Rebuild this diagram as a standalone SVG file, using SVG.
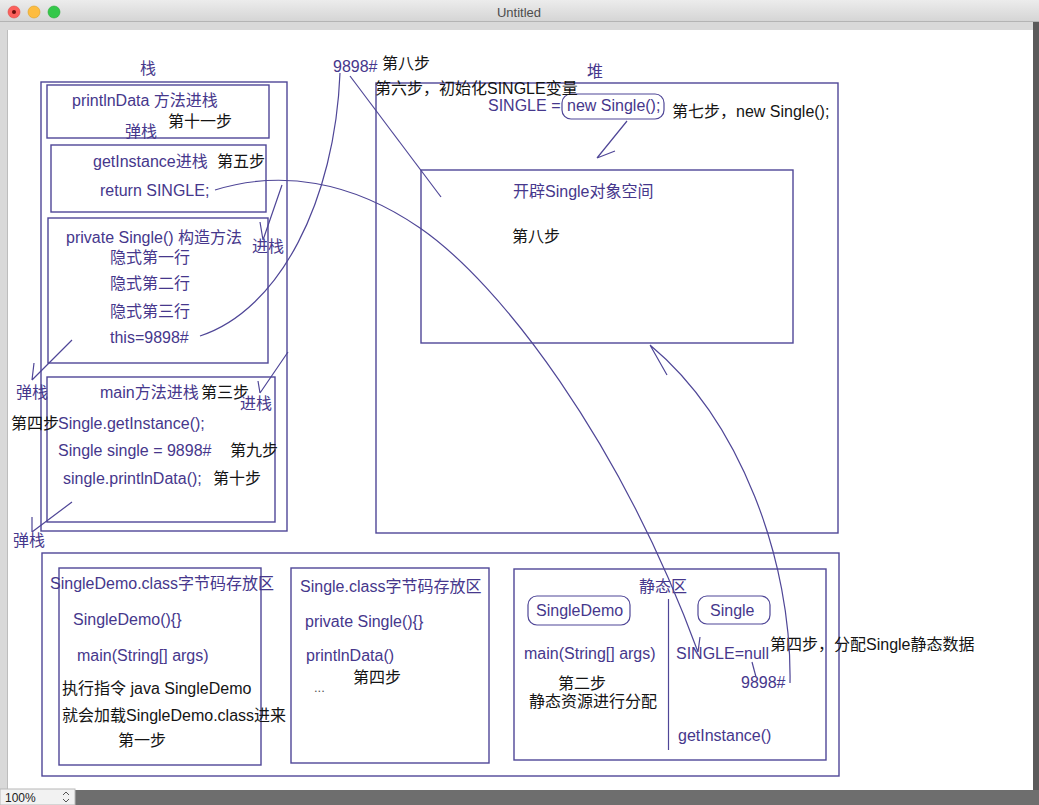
<svg xmlns="http://www.w3.org/2000/svg" width="1039" height="805" viewBox="0 0 1039 805">
<defs>
<linearGradient id="tb" x1="0" y1="0" x2="0" y2="1"><stop offset="0" stop-color="#ececec"/><stop offset="1" stop-color="#d4d4d4"/></linearGradient>
<style>
text{font-family:"Liberation Sans","Noto Sans CJK SC",sans-serif;font-size:16px}
.p{fill:#46378c}
.k{fill:#141414}
.box{fill:none;stroke:#4f4697;stroke-width:1.4}
.ln{fill:none;stroke:#4f4697;stroke-width:1.2}
.rb{fill:none;stroke:#4f4697;stroke-width:1.2}
</style>
</defs>
<!-- window chrome -->
<g id="window">
<rect x="0" y="0" width="1039" height="805" fill="#d9d9d9"/>
<rect x="0" y="0" width="1039" height="22" fill="url(#tb)"/>
<line x1="0" y1="21.5" x2="1039" y2="21.5" stroke="#b4b4b4"/>
<rect x="8" y="30" width="1025" height="760" fill="#ffffff"/>
<line x1="7.5" y1="30" x2="7.5" y2="790" stroke="#bdbdbd"/>
<rect x="1033" y="22" width="6" height="783" fill="#5a5a5a"/>
<rect x="0" y="790" width="1039" height="15" fill="#6e6e6e"/>
<rect x="0" y="789" width="75" height="16" fill="#f2f2f2" stroke="#b8b8b8"/>
<text x="5" y="802" style="font-size:12px" fill="#222">100%</text>
<path d="M63,795 l3,-3 l3,3 M63,799 l3,3 l3,-3" fill="none" stroke="#555" stroke-width="1"/>
<circle cx="14" cy="12" r="6" fill="#fc605c" stroke="#de4a45" stroke-width="0.6"/>
<circle cx="14" cy="12" r="2" fill="#6b0f0c"/>
<circle cx="34" cy="12" r="6" fill="#fdbc40" stroke="#dea123" stroke-width="0.6"/>
<circle cx="54" cy="12" r="6" fill="#34c84a" stroke="#27aa35" stroke-width="0.6"/>
<text x="519" y="16.5" text-anchor="middle" style="font-size:13px" fill="#4d4d4d">Untitled</text>
</g>

<!-- stack -->
<g id="stack">
<text class="p" x="140" y="74">栈</text>
<rect class="box" x="41" y="82" width="246" height="449"/>
</g>
<g id="frame-printlnData">
<rect class="box" x="47" y="85" width="222" height="53"/>
<text class="p" x="72" y="106">printlnData 方法进栈</text>
<text class="k" x="168" y="127">第十一步</text>
<text class="p" x="125" y="137">弹栈</text>
</g>
<g id="frame-getInstance">
<rect class="box" x="51" y="145" width="215" height="67"/>
<text class="p" x="93" y="167">getInstance进栈</text>
<text class="k" x="217" y="167">第五步</text>
<text class="p" x="100" y="196">return SINGLE;</text>
</g>
<g id="frame-constructor">
<rect class="box" x="48" y="218" width="220" height="145"/>
<text class="p" x="66" y="243">private Single() 构造方法</text>
<text class="p" x="110" y="263">隐式第一行</text>
<text class="p" x="110" y="289">隐式第二行</text>
<text class="p" x="110" y="317">隐式第三行</text>
<text class="p" x="110" y="343">this=9898#</text>
</g>
<g id="frame-main">
<rect class="box" x="47" y="377" width="228" height="145"/>
<text class="p" x="100" y="398">main方法进栈</text>
<text class="k" x="201" y="398">第三步</text>
<text class="k" x="11" y="429">第四步</text>
<text class="p" x="58" y="429">Single.getInstance();</text>
<text class="p" x="58" y="456">Single single = 9898#</text>
<text class="k" x="230" y="456">第九步</text>
<text class="p" x="63" y="484">single.printlnData();</text>
<text class="k" x="213" y="484">第十步</text>
</g>
<g id="stack-labels">
<text class="p" x="252" y="252">进栈</text>
<text class="p" x="16" y="398">弹栈</text>
<text class="p" x="240" y="409">进栈</text>
<text class="p" x="13" y="546">弹栈</text>
</g>

<!-- heap -->
<g id="heap">
<text class="p" x="587" y="77">堆</text>
<rect class="box" x="376" y="83" width="462" height="450"/>
<text class="p" x="488" y="111">SINGLE =</text>
<rect class="rb" x="562" y="94" width="102" height="25" rx="9"/>
<text class="p" x="567" y="111">new Single();</text>
<text class="k" x="672" y="117">第七步，new Single();</text>
</g>
<g id="heap-object">
<rect class="box" x="421" y="170" width="372" height="173"/>
<text class="p" x="513" y="197">开辟Single对象空间</text>
<text class="k" x="512" y="242">第八步</text>
</g>
<g id="top-notes">
<text class="p" x="333" y="72">9898#</text>
<text class="k" x="382" y="69">第八步</text>
<text class="k" x="375" y="94">第六步，初始化SINGLE变量</text>
</g>

<!-- method area -->
<g id="method-area">
<rect class="box" x="42" y="553" width="797" height="223"/>
</g>
<g id="singledemo-class">
<rect class="box" x="59" y="568" width="202" height="197"/>
<text class="p" x="50" y="589">SingleDemo.class字节码存放区</text>
<text class="p" x="73" y="625">SingleDemo(){}</text>
<text class="p" x="77" y="661">main(String[] args)</text>
<text class="k" x="62" y="694">执行指令 java SingleDemo</text>
<text class="k" x="62" y="721">就会加载SingleDemo.class进来</text>
<text class="k" x="118" y="746">第一步</text>
</g>
<g id="single-class">
<rect class="box" x="291" y="568" width="198" height="195"/>
<text class="p" x="300" y="592">Single.class字节码存放区</text>
<text class="p" x="305" y="627">private Single(){}</text>
<text class="p" x="306" y="661">printlnData()</text>
<text class="k" x="353" y="683">第四步</text>
<text x="314" y="692" style="font-size:13px" fill="#555">...</text>
</g>
<g id="static-area">
<rect class="box" x="514" y="569" width="312" height="191"/>
<text class="p" x="639" y="592">静态区</text>
<line class="ln" x1="668.5" y1="599" x2="668.5" y2="750"/>
<rect class="rb" x="528" y="596" width="102" height="29" rx="9"/>
<text class="p" x="536" y="616">SingleDemo</text>
<rect class="rb" x="698" y="596" width="72" height="28" rx="9"/>
<text class="p" x="710" y="616">Single</text>
<text class="p" x="524" y="659">main(String[] args)</text>
<text class="k" x="558" y="689">第二步</text>
<text class="k" x="529" y="707">静态资源进行分配</text>
<text class="p" x="676" y="659">SINGLE=null</text>
<text class="p" x="741" y="688">9898#</text>
<text class="p" x="678" y="741">getInstance()</text>
<text class="k" x="770" y="650">第四步，分配Single静态数据</text>
</g>

<!-- connectors -->
<g id="connectors">
<path class="ln" d="M282,185 L263,240 M263,240 L260,222"/>
<path class="ln" d="M72,340 L32,380 M32,380 L34,363"/>
<path class="ln" d="M288,352 L260,393 M260,393 L258,381"/>
<path class="ln" d="M72,502 L32,532 M32,532 L32,517"/>
<path class="ln" d="M627,121 L597,158 M597,158 L615,151"/>
<path class="ln" d="M350,76 L441,197"/>
<path class="ln" d="M340,73 C335,200 280,310 200,336"/>
<path class="ln" d="M215,190 C280,170 350,180 420,228 C500,283 620,440 698,652 M700,637 L698,652"/>
<path class="ln" d="M790,683 C792,560 740,420 650,345 M650,345 L667,375"/>
<path class="ln" d="M752,662 L756,677"/>
</g>
</svg>
